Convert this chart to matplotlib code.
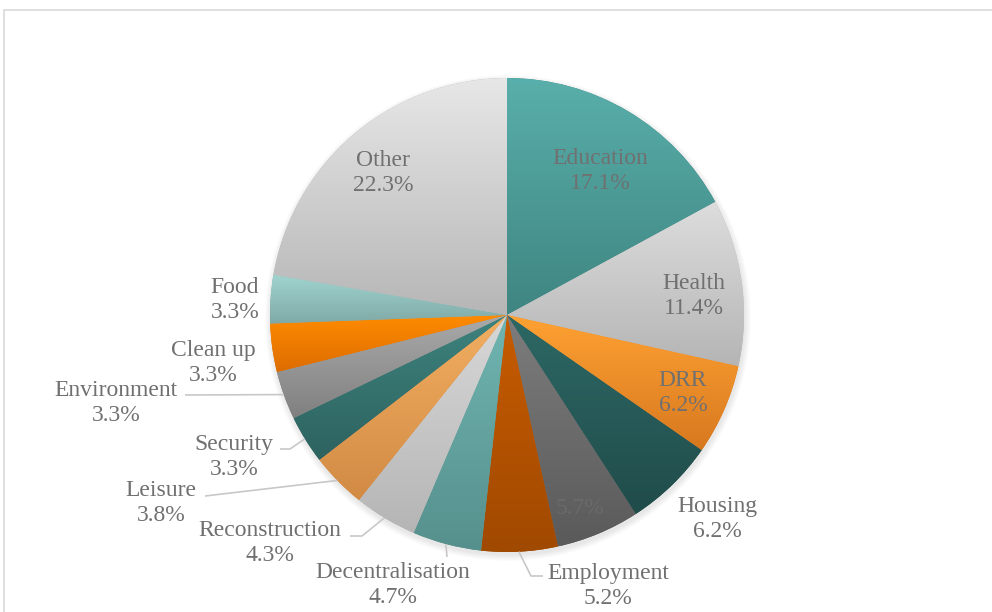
import numpy as np
import matplotlib.pyplot as plt
from matplotlib.colors import to_rgb
from matplotlib.patches import Circle, Rectangle

# datos del grafico
categorias = ['Education', 'Health', 'DRR', 'Housing', '', 'Employment',
              'Decentralisation', 'Reconstruction', 'Leisure', 'Security',
              'Environment', 'Clean up', 'Food', 'Other']
porcentajes = [17.1, 11.4, 6.2, 6.2, 5.7, 5.2, 4.7, 4.3, 3.8, 3.3, 3.3, 3.3, 3.3, 22.3]

# colores (arriba, abajo) para el degradado de cada porcion
colores = [('#59afab', '#3f8581'), ('#dddddd', '#b5b5b5'), ('#ffa233', '#d7781f'),
           ('#2d6865', '#204c4a'), ('#7d7d7d', '#5a5a5a'), ('#c85c00', '#a04900'),
           ('#70b5b1', '#56908d'), ('#d8d8d8', '#b5b5b5'), ('#f2af62', '#d28a44'),
           ('#3e837e', '#2d625f'), ('#aaaaaa', '#808080'), ('#ff8c00', '#dd6c00'),
           ('#a0d3cf', '#7fa9a6'), ('#e7e7e7', '#b6b6b6')]

# posicion de etiquetas (pixeles de la imagen) y codos de las lineas guia
pos_etiquetas = [(600, 171), (694, 296), (683, 393), (717, 519), (580, 508),
                 (608, 586), (393, 585), (270, 543), (161, 503), (234, 457),
                 (116, 403), (213, 363), (235, 300), (383, 173)]
lineas_guia = {5: [(531, 576), (543, 576)], 6: [(447, 557)], 7: [(362, 536), (350, 536)],
               8: [(205, 496)], 9: [(290, 449), (280, 449)], 10: [(185, 395)]}

W, H = 992, 612
cx, cy, r = 507, H - 315, 237
color_texto = '#707070'

fig = plt.figure(figsize=(W / 100, H / 100), dpi=100)
ax = fig.add_axes([0, 0, 1, 1])

# marco exterior
fig.patches.append(Rectangle((4 / W, -0.1), 1.1, (H - 10) / H + 0.1,
                             transform=fig.transFigure, fill=False,
                             edgecolor='#d9d9d9', lw=1.2))

# sombra suave
for k in range(8):
    ax.add_patch(Circle((cx + 1, cy - 3), r + 6 - k * 0.8, facecolor='#000000',
                        alpha=0.012, lw=0, zorder=0))

wedges, _ = ax.pie(porcentajes, startangle=90, counterclock=False,
                   center=(cx, cy), radius=r, frame=True,
                   wedgeprops=dict(linewidth=0))

for w, (c1, c2) in zip(wedges, colores):
    w.set_facecolor(c2)
    ext = w.get_path().get_extents()
    t = np.linspace(0, 1, 256)[:, None]
    grad = (1 - t) * np.array(to_rgb(c1)) + t * np.array(to_rgb(c2))
    im = ax.imshow(grad[:, None, :].repeat(2, axis=1),
                   extent=(ext.x0, ext.x1, ext.y0, ext.y1),
                   origin='upper', interpolation='bilinear', aspect='auto', zorder=2)
    im.set_clip_path(w)

# etiquetas
for i, (nombre, val) in enumerate(zip(categorias, porcentajes)):
    x, y = pos_etiquetas[i]
    txt = f'{nombre}\n{val:.1f}%' if nombre else f'{val:.1f}%'
    col = '#6a6a6a' if i == 4 else color_texto
    ax.text(x, H - y, txt, ha='center', va='center', fontsize=17,
            family='Liberation Serif', color=col, linespacing=1.24, zorder=5)

# lineas guia desde el borde de la porcion
acum = np.cumsum([0] + porcentajes)
for i, pts in lineas_guia.items():
    ang = np.deg2rad((acum[i] + porcentajes[i] / 2) / 100 * 360)
    x0 = cx + r * np.sin(ang)
    y0 = cy + r * np.cos(ang)
    xs = [x0] + [p[0] for p in pts]
    ys = [y0] + [H - p[1] for p in pts]
    ax.plot(xs, ys, color='#c8c8c8', lw=1.2, zorder=4, solid_capstyle='butt')

ax.set_xlim(0, W)
ax.set_ylim(0, H)
ax.set_aspect('auto')
ax.axis('off')

plt.savefig('out.png', dpi=100)
